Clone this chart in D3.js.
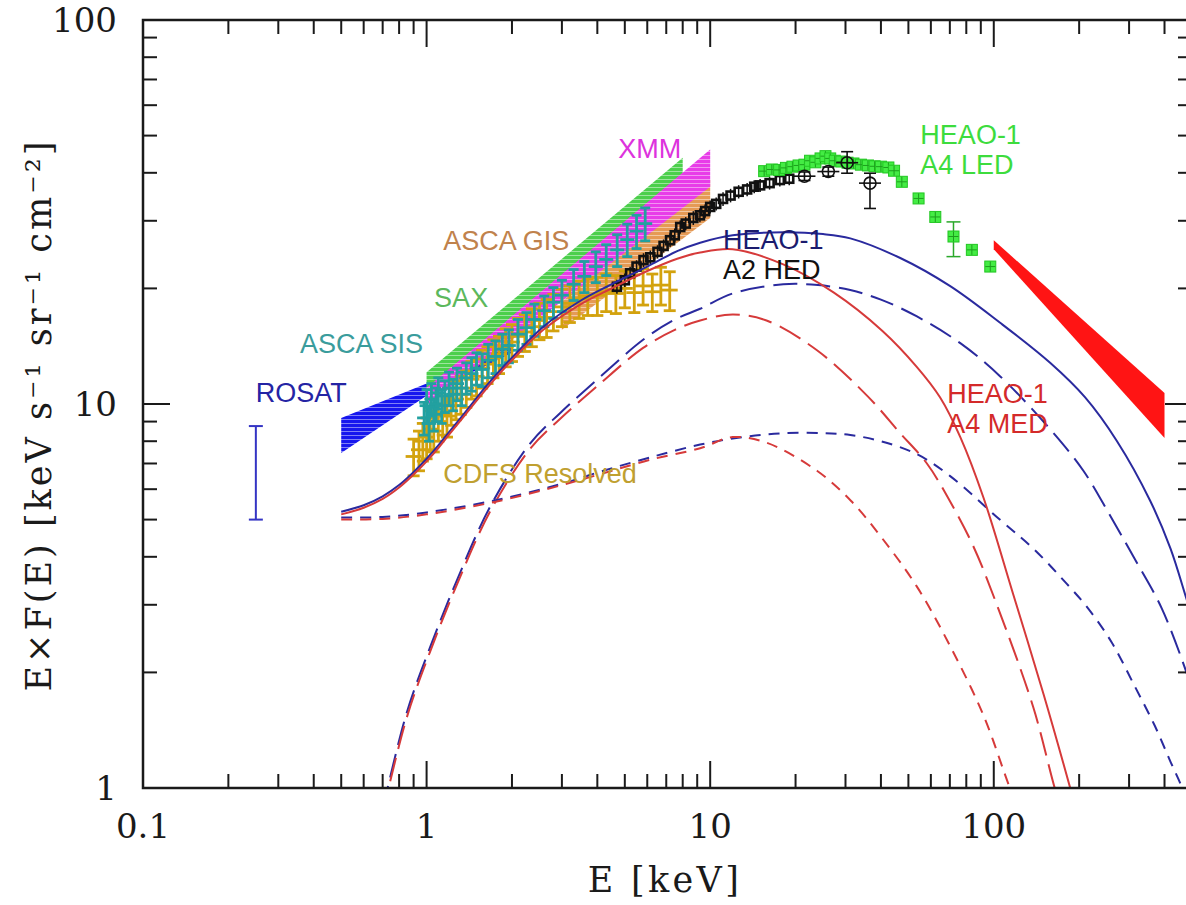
<!DOCTYPE html>
<html>
<head>
<meta charset="utf-8">
<script src="https://cdn.jsdelivr.net/npm/d3@7/dist/d3.min.js"></script>
<style>
  html, body { margin: 0; padding: 0; background: #fff; }
  svg { display: block; }
</style>
</head>
<body>
<div id="chart"></div>
<script>
// values: E in keV, E*F(E) in keV s^-1 sr^-1 cm^-2

const xTickLabels = [0.1, 1, 10, 100];
const yTickLabels = [1, 10, 100];

// bands: [E, lower, upper]
const rosatBand = [[0.5, 7.45, 9.19], [1.0, 10.5, 11.3], [2.0, 13.6, 14.8]];
const saxBand   = [[1.0, 10.6, 12.1], [8.0, 37.0, 43.8]];
const gisBand   = [[3.0, 15.6, 18.5], [10.0, 30.5, 38.4]];
const xmmBand   = [[1.0, 9.9, 11.0], [10.0, 36.8, 46.0]];
const medBand   = [[100, 25.3, 26.7], [400, 8.15, 10.68]];

// ROSAT error bar at 0.25 keV: [E, lower, upper]
const rosatErr = [[0.25, 5.0, 8.76]];

// CDFS resolved: [E, value, error]
const cdfsPts = [[0.9,7.3,0.8],[0.94,7.6,0.9],[0.97,8.0,0.9],[1.0,8.2,1.0],[1.03,8.6,1.0],[1.06,8.5,1.0],
  [1.1,9.0,1.0],[1.14,9.4,1.1],[1.18,9.3,1.1],[1.22,9.9,1.1],[1.27,10.3,1.2],[1.32,10.6,1.2],
  [1.38,11.0,1.2],[1.44,11.6,1.3],[1.5,11.8,1.3],[1.57,12.4,1.4],[1.64,12.7,1.4],[1.72,13.2,1.5],
  [1.8,13.5,1.5],[1.9,14.1,1.6],[2.0,14.5,1.6],[2.1,15.0,1.7],[2.22,15.4,1.7],[2.35,15.9,1.8],
  [2.5,16.5,1.8],[2.65,16.8,1.9],[2.8,17.4,1.9],[3.0,17.9,2.0],[3.2,18.3,2.0],[3.45,18.8,2.1],
  [3.7,19.1,2.1],[4.0,19.2,2.2],[4.3,19.6,2.2],[4.65,19.4,2.2],[5.0,20.0,2.2],[5.4,19.5,2.2],
  [5.8,20.3,2.2],[6.25,19.6,2.2],[6.7,20.4,2.3],[7.2,19.8,2.3]];

// ASCA SIS: [E, value, error]
const sisPts = [[0.98,9.2,0.9],[1.0,9.9,1.0],[1.02,8.9,0.9],[1.04,10.3,1.0],[1.06,9.4,0.9],[1.08,10.0,1.0],
  [1.1,10.7,1.0],[1.13,9.9,1.0],[1.16,10.5,1.0],[1.2,11.0,1.1],[1.24,10.6,1.0],[1.28,11.3,1.1],
  [1.33,11.0,1.1],[1.38,11.7,1.1],[1.44,12.0,1.2],[1.5,12.4,1.2],[1.57,12.3,1.2],[1.65,13.0,1.3],
  [1.75,13.3,1.3],[1.85,13.9,1.3],[1.95,14.2,1.4],[2.1,15.2,1.4],[2.25,15.8,1.5],[2.4,16.6,1.6],
  [2.6,17.5,1.6],[2.8,18.4,1.7],[3.0,19.2,1.8],[3.3,20.5,1.9],[3.6,21.5,2.0],[3.95,22.8,2.1],
  [4.3,23.8,2.2],[4.7,25.2,2.4],[5.1,26.8,2.6],[5.5,28.2,2.8],[5.9,29.5,2.9]];

// HEAO-1 A2 squares: [E, value, error]
const a2Pts = [[4.69,20.2,0.6],[5.0,21.0,0.6],[5.22,21.9,0.6],[5.5,22.8,0.6],[5.82,23.7,0.7],[6.15,24.1,0.7],
  [6.52,24.9,0.7],[6.85,25.8,0.7],[7.22,26.7,0.8],[7.5,27.5,0.8],[7.84,28.9,0.8],[8.2,29.5,0.8],
  [8.72,30.5,0.9],[9.2,31.0,0.9],[9.6,31.8,0.9],[10.0,32.6,0.9],[10.5,33.2,0.9],[11.1,34.2,1.0],
  [11.8,34.9,1.0],[12.6,35.7,1.0],[13.5,36.2,1.0],[14.3,36.8,1.0],[15.0,37.1,1.0],[16.2,37.6,1.0],
  [17.6,38.3,1.0],[19.0,38.6,1.0]];

// HEAO-1 A2 open circles: [E, value, lower, upper]
const a2Circles = [[21.5,39.2,38.2,40.2],[26.1,40.3,39.2,41.4],[30.4,42.5,39.9,45.4],[36.6,37.6,32.3,39.9]];

// HEAO-1 A4 LED: [E, value]
const ledPts = [[15.5,40.4],[16.5,40.8],[17.5,40.7],[18.5,41.2],[19.5,41.5],[20.5,41.8],[21.5,42.0],
  [22.5,43.0],[23.5,42.6],[24.5,43.6],[25.5,44.2],[26.5,43.6],[27.5,43.0],[29,42.8],[30.5,42.5],
  [32,42.3],[34,42.0],[36,41.8],[38,41.6],[40,41.5],[42.5,41.3],[44.5,40.5],
  [47.4,37.9],[54.3,34.3],[62.2,30.7],[72.1,27.3],[83.7,25.2],[97.2,22.8]];
// LED error bar: [E, lower, upper]
const ledErr = [[72.1, 24.2, 29.8]];

// model curves [E, value]
const blueTotal = [[0.5,5.24],[0.6,5.45],[0.7,5.75],[0.8,6.15],[0.9,6.65],[1.0,7.2],[1.1,7.8],[1.2,8.45],
  [1.35,9.4],[1.65,11.3],[2.0,13.2],[2.58,15.9],[3.5,18.6],[4.43,20.4],[6.0,22.8],[7.65,25.0],[9.22,26.3],
  [12,27.5],[18.1,28.0],[25,27.7],[31.2,27.0],[46.8,24.0],[70,20.3],[105,16.3],[158,12.8],[210,10.4],
  [272,8.0],[356,5.6],[420,4.2],[478,3.11],[500,2.8]];
const redTotal = [[0.5,5.16],[0.6,5.37],[0.7,5.66],[0.8,6.06],[0.9,6.55],[1.0,7.09],[1.1,7.68],[1.2,8.32],
  [1.35,9.26],[1.65,11.1],[2.0,13.0],[2.58,15.6],[3.5,18.2],[4.43,19.9],[6.0,22.2],[7.65,23.9],[9.22,24.8],
  [12,25.3],[18.1,23.1],[27.3,19.5],[40.5,15.5],[53.5,12.5],[64.7,10.4],[76.2,8.2],[92,5.7],[117,3.2],
  [150,1.75],[186,1.0],[200,0.82]];
const blueAbs = [[0.7,0.88],[0.85,1.565],[1.03,2.33],[1.28,3.48],[1.675,5.4],[2.32,7.9],[2.96,9.48],
  [3.98,11.55],[5.8,14.7],[7.5,16.6],[9.22,17.7],[12,19.4],[18.1,20.5],[24,20.4],[31.2,19.8],[40,18.7],
  [53.6,16.9],[76.2,14.4],[105.4,11.8],[158,8.6],[207,6.7],[258,5.1],[311,4.0],[390,2.95],[478,2.0],[500,1.8]];
const redAbs = [[0.7,0.86],[0.85,1.52],[1.03,2.27],[1.28,3.39],[1.675,5.25],[2.32,7.65],[2.96,9.15],
  [3.98,11.1],[5.8,14.0],[7.5,15.6],[9.22,16.5],[12,17.1],[15.8,16.5],[23.8,13.8],[35.8,10.5],[46.8,8.39],
  [58.1,7.0],[70,5.59],[84.6,4.27],[101,3.09],[137.9,1.62],[164,1.0],[180,0.8]];
const blueUnabs = [[0.5,5.06],[0.7,5.08],[1.0,5.22],[1.72,5.6],[3.0,6.2],[4.2,6.7],[6.1,7.25],[9.22,7.84],
  [13,8.2],[18.1,8.39],[25,8.4],[31.2,8.3],[40,8.0],[53.6,7.4],[70,6.5],[105,5.0],[138,4.2],[181,3.4],
  [214,2.95],[260,2.4],[313,1.85],[370,1.45],[420,1.17],[462,1.0],[500,0.85]];
const redUnabs = [[0.5,5.0],[0.7,5.02],[1.0,5.16],[1.72,5.55],[3.0,6.15],[4.2,6.6],[6.1,7.15],[9.22,7.67],
  [12,8.2],[15.8,7.93],[23.8,6.7],[31.4,5.59],[40.5,4.46],[53.5,3.35],[70,2.35],[92,1.545],[114,1.0],[125,0.85]];

// labels: text lines, anchor E, value at first baseline, colours
const labels = [
  {lines: ["ROSAT"], e: 0.25, v: 10.1, colors: ["#2424a4"]},
  {lines: ["ASCA SIS"], e: 0.358, v: 13.6, colors: ["#3a9c9c"]},
  {lines: ["SAX"], e: 1.063, v: 17.9, colors: ["#5cb85c"]},
  {lines: ["ASCA GIS"], e: 1.144, v: 25.2, colors: ["#c0824c"]},
  {lines: ["XMM"], e: 4.74, v: 43.7, colors: ["#dd33dd"]},
  {lines: ["HEAO-1", "A2 HED"], e: 11.1, v: 25.3, colors: ["#1b1b6e", "#111111"]},
  {lines: ["HEAO-1", "A4 LED"], e: 55.1, v: 47.5, colors: ["#3ddc3d", "#3ddc3d"]},
  {lines: ["HEAO-1", "A4 MED"], e: 68.5, v: 10.06, colors: ["#d42a2a", "#d42a2a"]},
  {lines: ["CDFS Resolved"], e: 1.144, v: 6.23, colors: ["#c0a030"]}
];

const width = 1186, height = 905;
const plotLeft = 143, plotTop = 20, plotRight = 1192, plotBottom = 788;

const x = d3.scaleLog().domain([0.1, 500]).range([plotLeft, plotRight]);
const y = d3.scaleLog().domain([1, 100]).range([plotBottom, plotTop]);

const svg = d3.select("#chart").append("svg")
    .attr("width", width)
    .attr("height", height)
    .style("background", "#fff");

const defs = svg.append("defs");
defs.append("clipPath").attr("id", "plotclip")
    .append("rect")
    .attr("x", plotLeft).attr("y", plotTop)
    .attr("width", plotRight - plotLeft).attr("height", plotBottom - plotTop);

// hatched fills
function hatch(id, color) {
    const p = defs.append("pattern")
        .attr("id", id)
        .attr("patternUnits", "userSpaceOnUse")
        .attr("width", 8).attr("height", 4);
    p.append("rect").attr("width", 8).attr("height", 4).attr("fill", color);
    p.append("line").attr("x1", 0).attr("x2", 8).attr("y1", 3.5).attr("y2", 3.5)
        .attr("stroke", "#fff").attr("stroke-opacity", 0.45).attr("stroke-width", 1);
    return `url(#${id})`;
}

const g = svg.append("g").attr("clip-path", "url(#plotclip)");

const band = d3.area()
    .x(d => x(d[0]))
    .y0(d => y(d[1]))
    .y1(d => y(d[2]));

g.append("path").datum(rosatBand).attr("d", band).attr("fill", hatch("hRosat", "#1616ee"));
g.append("path").datum(saxBand).attr("d", band).attr("fill", hatch("hSax", "#4ccf4c"));
g.append("path").datum(gisBand).attr("d", band).attr("fill", hatch("hGis", "#e59a55"));
g.append("path").datum(xmmBand).attr("d", band).attr("fill", hatch("hXmm", "#e83ce8"));
g.append("path").datum(medBand).attr("d", band).attr("fill", "#ff1414");

// error-bar points
function errPoints(data, color, cap, sw) {
    const grp = g.append("g").attr("stroke", color).attr("stroke-width", sw).attr("fill", "none");
    const pt = grp.selectAll("g").data(data).enter().append("g");
    pt.append("line")
        .attr("x1", d => x(d[0])).attr("x2", d => x(d[0]))
        .attr("y1", d => y(d[1] - d[2])).attr("y2", d => y(d[1] + d[2]));
    pt.append("line")
        .attr("x1", d => x(d[0]) - cap).attr("x2", d => x(d[0]) + cap)
        .attr("y1", d => y(d[1] - d[2])).attr("y2", d => y(d[1] - d[2]));
    pt.append("line")
        .attr("x1", d => x(d[0]) - cap).attr("x2", d => x(d[0]) + cap)
        .attr("y1", d => y(d[1] + d[2])).attr("y2", d => y(d[1] + d[2]));
    pt.append("line")
        .attr("x1", d => x(d[0]) - cap - 2).attr("x2", d => x(d[0]) + cap + 2)
        .attr("y1", d => y(d[1])).attr("y2", d => y(d[1]));
    return grp;
}

errPoints(cdfsPts, "#d3a20e", 6, 2.8);
errPoints(sisPts, "#22a0a0", 5, 2.8);

// ROSAT error bar
const re = g.append("g").attr("stroke", "#3434c4").attr("stroke-width", 2);
re.selectAll(".v").data(rosatErr).enter().append("line")
    .attr("x1", d => x(d[0])).attr("x2", d => x(d[0]))
    .attr("y1", d => y(d[1])).attr("y2", d => y(d[2]));
re.selectAll(".lo").data(rosatErr).enter().append("line")
    .attr("x1", d => x(d[0]) - 7).attr("x2", d => x(d[0]) + 7)
    .attr("y1", d => y(d[1])).attr("y2", d => y(d[1]));
re.selectAll(".hi").data(rosatErr).enter().append("line")
    .attr("x1", d => x(d[0]) - 7).attr("x2", d => x(d[0]) + 7)
    .attr("y1", d => y(d[2])).attr("y2", d => y(d[2]));

// HEAO-1 A2 squares
const a2 = g.append("g").attr("stroke", "#111").attr("fill", "none");
a2.selectAll("line").data(a2Pts).enter().append("line")
    .attr("stroke-width", 1.5)
    .attr("x1", d => x(d[0])).attr("x2", d => x(d[0]))
    .attr("y1", d => y(d[1] - d[2]) + 2).attr("y2", d => y(d[1] + d[2]) - 2);
a2.selectAll("rect").data(a2Pts).enter().append("rect")
    .attr("stroke-width", 2.6)
    .attr("x", d => x(d[0]) - 4).attr("y", d => y(d[1]) - 4)
    .attr("width", 8).attr("height", 8);

// HEAO-1 A4 LED
const led = g.append("g");
led.selectAll("line").data(ledErr).enter().append("line")
    .attr("stroke", "#2aa82a").attr("stroke-width", 1.5)
    .attr("x1", d => x(d[0])).attr("x2", d => x(d[0]))
    .attr("y1", d => y(d[1])).attr("y2", d => y(d[2]));
led.selectAll(".cap").data(ledErr.flatMap(d => [[d[0], d[1]], [d[0], d[2]]])).enter().append("line")
    .attr("stroke", "#2aa82a").attr("stroke-width", 1.5)
    .attr("x1", d => x(d[0]) - 7).attr("x2", d => x(d[0]) + 7)
    .attr("y1", d => y(d[1])).attr("y2", d => y(d[1]));
const ledSym = led.selectAll("g").data(ledPts).enter().append("g")
    .attr("transform", d => `translate(${x(d[0])},${y(d[1])})`);
ledSym.append("rect")
    .attr("x", -5.5).attr("y", -5.5).attr("width", 11).attr("height", 11)
    .attr("fill", "#44ec44").attr("stroke", "#22c622").attr("stroke-width", 1);
ledSym.append("path")
    .attr("d", "M-5,0H5M0,-5V5")
    .attr("stroke", "#1d9e1d").attr("stroke-width", 1);

// HEAO-1 A2 circles
const circ = g.append("g").attr("stroke", "#111").attr("stroke-width", 1.6).attr("fill", "none");
const cg = circ.selectAll("g").data(a2Circles).enter().append("g");
cg.append("line")
    .attr("x1", d => x(d[0])).attr("x2", d => x(d[0]))
    .attr("y1", d => y(d[2])).attr("y2", d => y(d[3]));
cg.append("line")
    .attr("x1", d => x(d[0]) - 6).attr("x2", d => x(d[0]) + 6)
    .attr("y1", d => y(d[2])).attr("y2", d => y(d[2]));
cg.append("line")
    .attr("x1", d => x(d[0]) - 6).attr("x2", d => x(d[0]) + 6)
    .attr("y1", d => y(d[3])).attr("y2", d => y(d[3]));
cg.append("line")
    .attr("x1", d => x(d[0]) - 11).attr("x2", d => x(d[0]) + 11)
    .attr("y1", d => y(d[1])).attr("y2", d => y(d[1]));
cg.append("circle")
    .attr("cx", d => x(d[0])).attr("cy", d => y(d[1])).attr("r", 6);

// model curves
const line = d3.line()
    .x(d => x(d[0]))
    .y(d => y(d[1]))
    .curve(d3.curveCatmullRom.alpha(0.5));

const models = [
    {data: blueAbs, color: "#2a2a9e", dash: "24,9"},
    {data: redAbs, color: "#d63a3a", dash: "24,9"},
    {data: blueUnabs, color: "#2a2a9e", dash: "11,8"},
    {data: redUnabs, color: "#d63a3a", dash: "11,8"},
    {data: blueTotal, color: "#2a2a9e", dash: null},
    {data: redTotal, color: "#d63a3a", dash: null}
];
models.forEach(m => {
    g.append("path").datum(m.data)
        .attr("d", line)
        .attr("fill", "none")
        .attr("stroke", m.color)
        .attr("stroke-width", 2)
        .attr("stroke-dasharray", m.dash);
});

// labels
const lab = svg.append("g")
    .style("font-family", "'Liberation Sans', Arial, sans-serif")
    .style("font-size", "27px");
labels.forEach(l => {
    l.lines.forEach((t, i) => {
        lab.append("text")
            .attr("x", x(l.e))
            .attr("y", y(l.v) + i * 30)
            .attr("fill", l.colors[i])
            .text(t);
    });
});

// frame and ticks
const axis = svg.append("g").attr("stroke", "#1a1a1a");
axis.append("rect")
    .attr("x", plotLeft).attr("y", plotTop)
    .attr("width", plotRight - plotLeft).attr("height", plotBottom - plotTop)
    .attr("fill", "none").attr("stroke-width", 2.5);

function minors(lo, hi) {
    const out = [];
    for (let k = Math.floor(Math.log10(lo)); k <= Math.ceil(Math.log10(hi)); k++) {
        for (let m = 2; m <= 9; m++) {
            const v = m * Math.pow(10, k);
            if (v > lo && v <= hi) out.push(v);
        }
    }
    return out;
}
const xMinor = minors(0.1, 500);
const yMinor = minors(1, 100);
const majLen = 27, minLen = 14;

xTickLabels.concat(xMinor).forEach(v => {
    const len = xTickLabels.includes(v) ? majLen : minLen;
    axis.append("line").attr("stroke-width", 2)
        .attr("x1", x(v)).attr("x2", x(v)).attr("y1", plotBottom).attr("y2", plotBottom - len);
    axis.append("line").attr("stroke-width", 2)
        .attr("x1", x(v)).attr("x2", x(v)).attr("y1", plotTop).attr("y2", plotTop + len);
});
yTickLabels.concat(yMinor).forEach(v => {
    const len = yTickLabels.includes(v) ? majLen : minLen;
    axis.append("line").attr("stroke-width", 2)
        .attr("x1", plotLeft).attr("x2", plotLeft + len).attr("y1", y(v)).attr("y2", y(v));
    axis.append("line").attr("stroke-width", 2)
        .attr("x1", plotRight).attr("x2", plotRight - len).attr("y1", y(v)).attr("y2", y(v));
});

const tickFont = "'DejaVu Serif', serif";
svg.append("g").selectAll("text").data(xTickLabels).enter().append("text")
    .attr("x", d => x(d)).attr("y", 838)
    .attr("text-anchor", "middle")
    .style("font-family", tickFont).style("font-size", "34px").attr("fill", "#1a1a1a")
    .text(d => d);
svg.append("g").selectAll("text").data(yTickLabels).enter().append("text")
    .attr("x", 117).attr("y", d => y(d)).attr("dy", "0.36em")
    .attr("text-anchor", "end")
    .style("font-family", tickFont).style("font-size", "34px").attr("fill", "#1a1a1a")
    .text(d => d);

function fitText(sel, target) {
    const n = sel.text().length;
    const w = sel.node().getComputedTextLength();
    sel.attr("letter-spacing", (target - w) / (n - 1));
}

const xTitle = svg.append("text")
    .attr("x", 665).attr("y", 892)
    .attr("text-anchor", "middle")
    .style("font-family", tickFont).style("font-size", "35px").attr("fill", "#1a1a1a")
    .text("E [keV]");
fitText(xTitle, 151);

const yTitle = svg.append("text")
    .attr("transform", "translate(51,415) rotate(-90)")
    .attr("text-anchor", "middle")
    .style("font-family", tickFont).style("font-size", "35px").attr("fill", "#1a1a1a")
    .text("E×F(E) [keV s⁻¹ sr⁻¹ cm⁻²]");
fitText(yTitle, 550);
</script>
</body>
</html>
